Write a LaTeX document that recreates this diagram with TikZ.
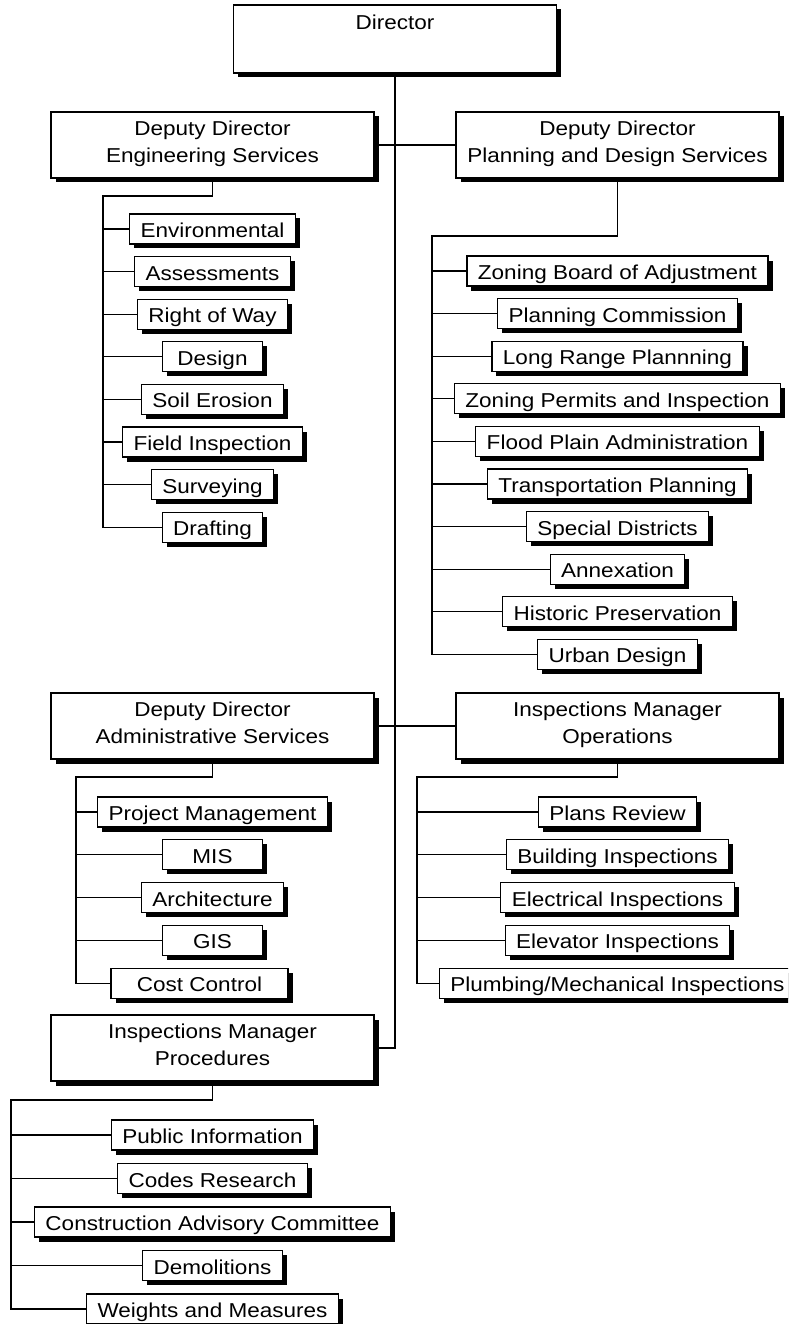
\documentclass[tikz,border=0pt]{standalone}
\usepackage{fontspec}
\setmainfont{Liberation Sans}[FakeStretch=1.12]
\usetikzlibrary{shadows}
\begin{document}
\begin{tikzpicture}[x=1pt,y=-1pt,
  every node/.style={font=\fontsize{20.1}{27}\selectfont},
  shad/.style={drop shadow={opacity=1,fill=black,shadow xshift=4.5pt,shadow yshift=-4.5pt}},
  bigbox/.style={draw,fill=white,line width=1.1pt,shad,minimum width=323pt,minimum height=66pt,align=center,inner sep=0pt,text depth=7pt},
  smallbox/.style={draw,fill=white,line width=1.1pt,shad,minimum width=100pt,minimum height=30pt,inner xsep=11pt,inner ysep=0pt,text height=17pt,text depth=0pt},
  conn/.style={line width=1.1pt}]
\useasboundingbox (0,0) rectangle (788,1324);
\clip (0,0) rectangle (788,1324);

% top level
\node[bigbox,minimum height=68pt] (dir) at (395,39) {Director\\\mbox{}};
\node[bigbox] (eng) at (212.5,145) {Deputy Director\\Engineering Services};
\node[bigbox] (plan) at (617.5,145) {Deputy Director\\Planning and Design Services};
\node[bigbox] (adm) at (212.5,726) {Deputy Director\\Administrative Services};
\node[bigbox] (ops) at (617.5,726) {Inspections Manager\\Operations};
\node[bigbox] (proc) at (212.5,1048) {Inspections Manager\\Procedures};

% engineering children
\node[smallbox] (e1) at (212.5,229) {Environmental};
\node[smallbox] (e2) at (212.5,271.6) {Assessments};
\node[smallbox] (e3) at (212.5,314.2) {Right of Way};
\node[smallbox] (e4) at (212.5,356.8) {Design};
\node[smallbox] (e5) at (212.5,399.4) {Soil Erosion};
\node[smallbox] (e6) at (212.5,442) {Field Inspection};
\node[smallbox] (e7) at (212.5,484.6) {Surveying};
\node[smallbox] (e8) at (212.5,527.2) {Drafting};

% planning children
\node[smallbox] (p1) at (617.5,271) {Zoning Board of Adjustment};
\node[smallbox] (p2) at (617.5,313.6) {Planning Commission};
\node[smallbox] (p3) at (617.5,356.2) {Long Range Plannning};
\node[smallbox] (p4) at (617.5,398.8) {Zoning Permits and Inspection};
\node[smallbox] (p5) at (617.5,441.4) {Flood Plain Administration};
\node[smallbox] (p6) at (617.5,484) {Transportation Planning};
\node[smallbox] (p7) at (617.5,526.6) {Special Districts};
\node[smallbox] (p8) at (617.5,569.2) {Annexation};
\node[smallbox] (p9) at (617.5,611.8) {Historic Preservation};
\node[smallbox] (p10) at (617.5,654.4) {Urban Design};

% administrative children
\node[smallbox] (a1) at (212.5,812) {Project Management};
\node[smallbox] (a2) at (212.5,854.8) {MIS};
\node[smallbox] (a3) at (212.5,897.6) {Architecture};
\node[smallbox] (a4) at (212.5,940.4) {GIS};
\node[smallbox,minimum width=177pt] (a5) at (199.5,983.2) {Cost Control};

% operations children
\node[smallbox] (o1) at (617.5,812) {Plans Review};
\node[smallbox] (o2) at (617.5,854.8) {Building Inspections};
\node[smallbox] (o3) at (617.5,897.6) {Electrical Inspections};
\node[smallbox] (o4) at (617.5,940.4) {Elevator Inspections};
\node[smallbox] (o5) at (617.5,983.2) {Plumbing/Mechanical Inspections};

% procedures children
\node[smallbox] (r1) at (212.5,1135) {Public Information};
\node[smallbox] (r2) at (212.5,1178.5) {Codes Research};
\node[smallbox] (r3) at (212.5,1222) {Construction Advisory Committee};
\node[smallbox] (r4) at (212.5,1265.5) {Demolitions};
\node[smallbox] (r5) at (212.5,1309) {Weights and Measures};

% bus coordinates
\coordinate (engbus) at (103,196);
\coordinate (planbus) at (432,236);
\coordinate (admbus) at (76,777);
\coordinate (opsbus) at (417,777);
\coordinate (procbus) at (11,1100);

% main connectors
\draw[conn] (dir.south) -- (dir.south |- proc.east) -- (proc.east);
\draw[conn] (eng.east) -- (plan.west);
\draw[conn] (adm.east) -- (ops.west);

% engineering bus
\draw[conn] (eng.south) -- (eng.south |- engbus) -- (engbus) -- (engbus |- e8.west) -- (e8.west);
\foreach \n in {e1,e2,e3,e4,e5,e6,e7} \draw[conn] (engbus |- \n.west) -- (\n.west);

% planning bus
\draw[conn] (plan.south) -- (plan.south |- planbus) -- (planbus) -- (planbus |- p10.west) -- (p10.west);
\foreach \n in {p1,p2,p3,p4,p5,p6,p7,p8,p9} \draw[conn] (planbus |- \n.west) -- (\n.west);

% administrative bus
\draw[conn] (adm.south) -- (adm.south |- admbus) -- (admbus) -- (admbus |- a5.west) -- (a5.west);
\foreach \n in {a1,a2,a3,a4} \draw[conn] (admbus |- \n.west) -- (\n.west);

% operations bus
\draw[conn] (ops.south) -- (ops.south |- opsbus) -- (opsbus) -- (opsbus |- o5.west) -- (o5.west);
\foreach \n in {o1,o2,o3,o4} \draw[conn] (opsbus |- \n.west) -- (\n.west);

% procedures bus
\draw[conn] (proc.south) -- (proc.south |- procbus) -- (procbus) -- (procbus |- r5.west) -- (r5.west);
\foreach \n in {r1,r2,r3,r4} \draw[conn] (procbus |- \n.west) -- (\n.west);
\end{tikzpicture}
\end{document}
